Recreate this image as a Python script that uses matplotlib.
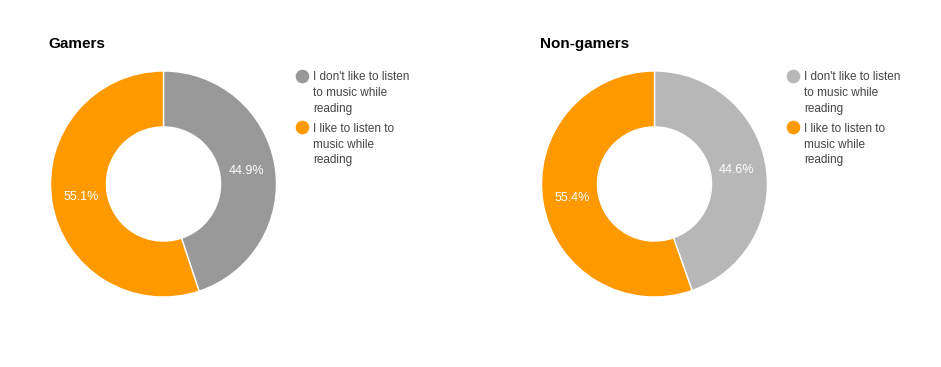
import matplotlib
matplotlib.use("Agg")
import matplotlib.pyplot as plt
from matplotlib.lines import Line2D

plt.rcParams['font.family'] = ['Liberation Sans', 'DejaVu Sans']

groups = ["Gamers", "Non-gamers"]
legend_labels = ["I don't like to listen\nto music while\nreading",
                 "I like to listen to\nmusic while\nreading"]
gamers = [44.9, 55.1]
non_gamers = [44.6, 55.4]
values = [gamers, non_gamers]
colors = [["#999999", "#ff9900"], ["#b7b7b7", "#ff9900"]]

W, H = 941, 367
fig = plt.figure(figsize=(W / 100, H / 100), dpi=100)
fig.patch.set_facecolor("white")

def fx(px):
    return px / W

def fy(py):
    return 1 - py / H

panels = [
    dict(cx=163.5, cy=184, title_x=48, legend_mx=301.7, legend_tx=313),
    dict(cx=654.5, cy=184, title_x=540, legend_mx=793.3, legend_tx=804.5),
]
R = 113
text_color = "#444444"

for i, p in enumerate(panels):
    ax = fig.add_axes([fx(p["cx"] - R), fy(p["cy"] + R), 2 * R / W, 2 * R / H])
    wedges, _, autotexts = ax.pie(
        values[i], colors=colors[i], startangle=90, counterclock=False,
        radius=1.0, autopct=lambda v: f"{v:.1f}%", pctdistance=0.74,
        wedgeprops=dict(width=0.495, edgecolor="white", linewidth=1.0),
        textprops=dict(color="white", fontsize=9),
    )
    ax.set_xlim(-1, 1)
    ax.set_ylim(-1, 1)
    ax.set_aspect("equal")
    ax.axis("off")

    fig.text(fx(p["title_x"]), fy(44), groups[i], fontsize=11,
             fontweight="bold", color="#000000", ha="left", va="center")

    base_y = [80.5, 131.5]
    for j, lab in enumerate(legend_labels):
        marker_y = base_y[j] - 4.8
        fig.add_artist(Line2D([fx(p["legend_mx"])], [fy(marker_y)], marker="o",
                              markersize=8.8, color=colors[i][j], linestyle="none",
                              transform=fig.transFigure))
        for k, line in enumerate(lab.split("\n")):
            fig.text(fx(p["legend_tx"]), fy(base_y[j] + 16 * k), line,
                     fontsize=8.5, color=text_color, ha="left", va="baseline")

fig.savefig("out.png", dpi=100, facecolor="white")
